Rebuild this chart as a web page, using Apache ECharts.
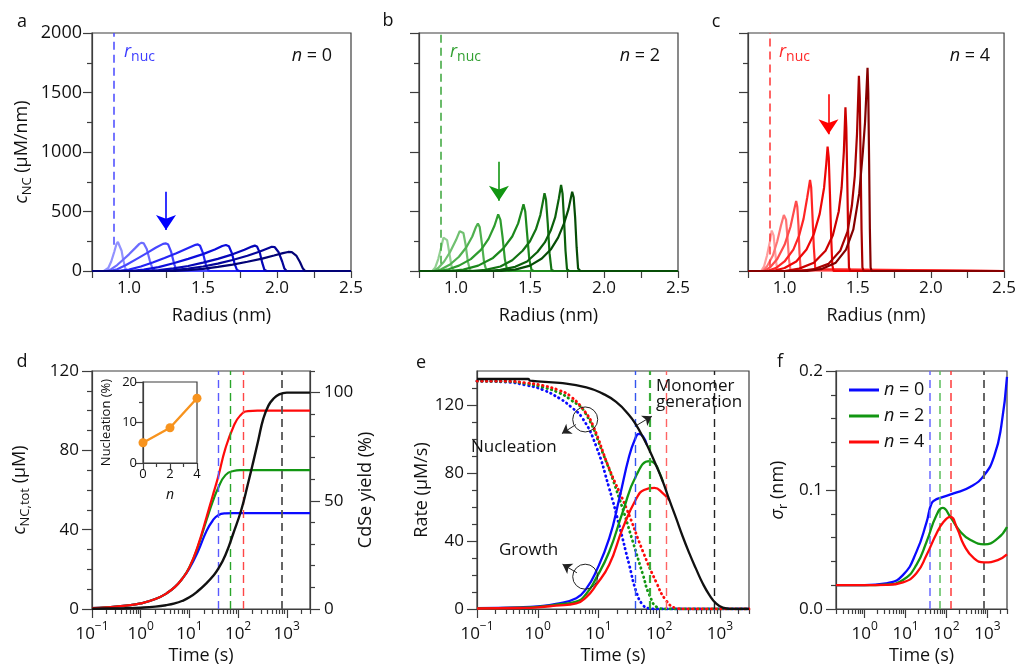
<!DOCTYPE html>
<html>
<head>
<meta charset="utf-8">
<script src="https://cdn.jsdelivr.net/npm/echarts@6/dist/echarts.min.js"></script>
<style>
  html, body { margin: 0; padding: 0; background: #fff; }
  #chart { width: 1019px; height: 667px; }
</style>
</head>
<body>
<div id="chart"></div>
<script>
// ---------- Panels a–c: NC size distributions, points are [radius (nm), c_NC (µM/nm)] ----------
const radiusTickLabels = [1.0, 1.5, 2.0, 2.5];
const rNuc = 0.9;

const distN0 = [
  [[0.75,0],[0.83,0],[0.86,25],[0.88,80],[0.90,160],[0.915,225],[0.925,244],[0.935,235],[0.95,170],[0.96,100],[0.975,20],[0.99,0],[2.5,0]],
  [[0.75,0],[0.85,0],[0.88,15],[0.92,50],[0.96,95],[1.00,140],[1.04,190],[1.07,228],[1.085,238],[1.10,232],[1.12,185],[1.14,90],[1.16,15],[1.175,0],[2.5,0]],
  [[0.75,0],[0.87,0],[0.92,15],[0.98,50],[1.05,100],[1.12,150],[1.18,195],[1.23,228],[1.25,232],[1.265,222],[1.285,160],[1.305,60],[1.32,8],[1.335,0],[2.5,0]],
  [[0.75,0],[0.92,0],[1.00,12],[1.08,38],[1.16,72],[1.24,110],[1.32,150],[1.40,193],[1.45,220],[1.465,224],[1.48,212],[1.50,150],[1.52,50],[1.535,5],[1.55,0],[2.5,0]],
  [[0.75,0],[1.00,0],[1.10,12],[1.20,33],[1.30,65],[1.40,102],[1.50,142],[1.58,180],[1.63,210],[1.655,218],[1.675,208],[1.695,150],[1.715,55],[1.73,8],[1.745,0],[2.5,0]],
  [[0.75,0],[1.10,0],[1.20,8],[1.30,22],[1.40,42],[1.50,70],[1.60,102],[1.70,140],[1.78,178],[1.83,205],[1.85,213],[1.865,206],[1.885,150],[1.90,70],[1.915,10],[1.93,0],[2.5,0]],
  [[0.75,0],[1.20,0],[1.30,8],[1.40,20],[1.50,38],[1.60,62],[1.70,92],[1.80,128],[1.88,162],[1.94,192],[1.965,204],[1.985,200],[2.01,160],[2.035,80],[2.05,20],[2.065,0],[2.5,0]],
  [[0.75,0],[1.30,0],[1.40,8],[1.50,18],[1.60,34],[1.70,54],[1.80,78],[1.90,104],[1.98,130],[2.04,150],[2.075,160],[2.10,158],[2.13,130],[2.155,75],[2.175,20],[2.19,0],[2.5,0]]
];

const distN2 = [
  [[0.75,0],[0.84,0],[0.86,30],[0.88,100],[0.90,200],[0.915,280],[0.925,294],[0.94,260],[0.955,150],[0.97,40],[0.985,0],[2.5,0]],
  [[0.75,0],[0.85,0],[0.88,25],[0.92,80],[0.96,160],[1.00,260],[1.025,335],[1.035,350],[1.05,320],[1.065,220],[1.08,80],[1.095,5],[1.11,0],[2.5,0]],
  [[0.75,0],[0.86,0],[0.90,15],[0.96,55],[1.02,120],[1.07,200],[1.11,290],[1.135,370],[1.148,400],[1.16,370],[1.175,230],[1.19,70],[1.205,5],[1.22,0],[2.5,0]],
  [[0.75,0],[0.88,0],[0.95,15],[1.02,45],[1.10,100],[1.17,180],[1.22,270],[1.26,380],[1.285,476],[1.30,430],[1.315,280],[1.33,100],[1.345,10],[1.36,0],[2.5,0]],
  [[0.75,0],[0.95,0],[1.05,12],[1.15,45],[1.25,110],[1.32,190],[1.38,290],[1.42,400],[1.445,510],[1.456,560],[1.468,500],[1.48,320],[1.495,100],[1.51,10],[1.525,0],[2.5,0]],
  [[0.75,0],[1.10,0],[1.20,10],[1.30,38],[1.38,90],[1.45,170],[1.50,250],[1.54,350],[1.57,470],[1.59,600],[1.598,653],[1.608,600],[1.62,400],[1.632,150],[1.645,10],[1.66,0],[2.5,0]],
  [[0.75,0],[1.20,0],[1.30,10],[1.40,35],[1.48,80],[1.55,160],[1.60,240],[1.64,340],[1.67,450],[1.695,610],[1.71,723],[1.72,650],[1.73,430],[1.74,170],[1.75,15],[1.765,0],[2.5,0]],
  [[0.75,0],[1.30,0],[1.40,12],[1.50,45],[1.58,105],[1.64,180],[1.69,280],[1.73,400],[1.76,520],[1.785,666],[1.795,620],[1.805,450],[1.815,200],[1.825,20],[1.84,0],[2.5,0]]
];

const distN4 = [
  [[0.75,0],[0.84,0],[0.86,40],[0.88,130],[0.90,250],[0.912,340],[0.917,345],[0.925,300],[0.935,170],[0.945,50],[0.955,0],[2.5,0]],
  [[0.75,0],[0.85,0],[0.88,40],[0.92,130],[0.95,250],[0.975,380],[0.995,470],[1.00,476],[1.01,430],[1.02,280],[1.03,100],[1.04,10],[1.05,0],[2.5,0]],
  [[0.75,0],[0.86,0],[0.90,30],[0.95,100],[1.00,220],[1.04,370],[1.065,510],[1.079,588],[1.087,540],[1.095,380],[1.102,150],[1.11,10],[1.12,0],[2.5,0]],
  [[0.75,0],[0.88,0],[0.94,25],[1.00,80],[1.06,180],[1.10,300],[1.13,440],[1.155,620],[1.174,765],[1.182,700],[1.19,480],[1.20,200],[1.21,15],[1.22,0],[2.5,0]],
  [[0.75,0],[0.92,0],[1.00,25],[1.08,80],[1.15,180],[1.20,310],[1.24,480],[1.27,700],[1.285,900],[1.294,1045],[1.302,950],[1.31,650],[1.318,300],[1.326,50],[1.335,0],[2.5,0]],
  [[0.75,0],[1.00,0],[1.10,20],[1.20,70],[1.28,170],[1.33,300],[1.37,500],[1.39,700],[1.405,1000],[1.416,1375],[1.422,1200],[1.428,800],[1.434,350],[1.44,30],[1.448,0],[2.5,0]],
  [[0.75,0],[1.10,0],[1.20,15],[1.30,60],[1.38,170],[1.43,330],[1.46,550],[1.48,800],[1.495,1150],[1.508,1641],[1.514,1450],[1.52,900],[1.526,350],[1.532,30],[1.54,0],[2.5,0]],
  [[0.75,0],[1.15,0],[1.25,15],[1.35,70],[1.42,180],[1.47,350],[1.51,650],[1.535,1000],[1.55,1250],[1.567,1708],[1.572,1500],[1.578,900],[1.583,350],[1.588,30],[1.595,0],[2.5,0]]
];

// ---------- Panel d: total NC concentration (µM) and CdSe yield (%) vs time (s) ----------
const timeD   = [0.1,0.2,0.5,1,2,3.4,5,7,10,15,22.6,30,39,55,80,110,160,250,500,1000,3000];
const cTotN0  = [0.4,0.8,1.7,2.8,5,7.9,11,15,20.5,29,39.5,44.5,47.3,48.2,48.3,48.3,48.3,48.3,48.3,48.3,48.3];
const cTotN2  = [0.4,0.8,1.7,2.8,5,7.9,11,15,21,31.5,45,54,61,67.5,69.6,70,70,70,70,70,70];
const cTotN4  = [0.4,0.8,1.7,2.8,5,7.9,11,15,21,32,46.5,57,66.6,81,91.8,97.5,99.8,100,100,100,100];
const timeYield = [0.1,0.2,0.5,1,2,3.4,5,7,10,15,22.6,30,39,55,80,117,160,205,260,330,420,525,700,1000,3000];
const yieldCdSe = [0.1,0.2,0.35,0.6,1.1,1.8,2.6,3.7,5.4,8.3,12,15,18.5,25,35,46,58,68,78,88,94,97,99.2,100,100];
// inset: nucleation share (%) vs n
const insetN = [0, 2, 4];
const nucleationPct = [5.0, 8.7, 16.0];
// end of nucleation for n = 0, 2, 4 and end of the reaction (s)
const endTimes = [40, 70, 130, 800];

// ---------- Panel e: rates (µM/s) vs time (s) ----------
const timeMono = [0.1,0.7,0.75,2.3,6.3,11.7,19.5,32,42,54,69,88.6,115,147,190,244,313,400,520,670,860,1110,1500,3000];
const rateMono = [135.3,135.3,134.3,133,130.4,126.7,121.8,114,108,101,93.4,84.6,74.8,64,53.3,42.5,32.7,23.9,15,8.2,3.3,0.8,0.1,0];
const timeNucN0 = [0.1,0.3,0.65,1.2,2.3,3.5,5.5,9.1,15,22,32,42,54,70,100,3000];
const rateNucN0 = [134,133.5,131.6,129,123.8,119,112,96,71,49,26,10,2.3,0.3,0,0];
const timeNucN2 = [0.1,0.3,0.65,1.2,2.3,3.5,5.9,11.7,22,36.8,54,69,95,130,3000];
const rateNucN2 = [134,133.8,132.5,130.5,127,123,116,92,65,39.5,20,8.2,0.8,0,0];
const timeNucN4 = [0.1,0.3,0.65,1.2,2.3,3.5,6,8.1,15,29,54,88.6,128,190,260,3000];
const rateNucN4 = [134,134,133,131.5,128.5,125,116,108,82.6,59,33.7,16,5.3,0.5,0,0];
const timeGrowN0 = [0.1,0.5,1,2,4.3,6.3,9.1,15,22,32,40,46,54,62];
const rateGrowN0 = [0.5,1,1.6,3,6.3,12,22,41.5,65,90,100,103,101.5,96.8];
const timeGrowN2 = [0.1,0.5,1,2,4.3,6.3,9.1,15,25,42,69,85,100,115];
const rateGrowN2 = [0.4,0.8,1.3,2.5,4.3,9,18,33.7,57,78.7,87,85.5,80.5,75];
const timeGrowN4 = [0.1,0.5,1,2,4.3,6.3,9.1,15,25,42,56,83,115,147];
const rateGrowN4 = [0.3,0.6,1,2,3.3,7,14,26,47.4,65,70,71.3,68,64];

// ---------- Panel f: size-distribution width sigma_r (nm) vs time (s) ----------
const timeSigN0 = [0.2,1,3.3,8.6,18.4,32.6,43,55,70,149,386,835,1480,2180,3000];
const sigmaN0   = [0.02,0.02,0.0215,0.0285,0.048,0.073,0.0887,0.092,0.0934,0.0971,0.1027,0.1125,0.129,0.154,0.195];
const timeSigN2 = [0.2,1,3.3,8.6,18.4,32.6,57,81,123,218,386,835,1780,3000];
const sigmaN2   = [0.02,0.02,0.0205,0.0243,0.037,0.0565,0.079,0.085,0.0775,0.065,0.058,0.0543,0.0593,0.069];
const timeSigN4 = [0.2,1,3.3,8.6,18.4,32.6,57,85,123,182,267,470,835,1780,3000];
const sigmaN4   = [0.02,0.02,0.0202,0.0224,0.030,0.0453,0.0635,0.0733,0.0775,0.0677,0.0537,0.0425,0.0392,0.0411,0.0459];

// ---------- styles ----------
const FONT = "'Open Sans', sans-serif";
const INK = '#111';
const AXIS = '#3d3d3d';
const axisLine = { show: true, onZero: false, lineStyle: { color: AXIS, width: 1.2 } };
const noLine = { show: false, onZero: false };
const tickStyle = { color: AXIS, width: 1.2 };
const BLUE = '#0a0aff', GREEN = '#129612', RED = '#ff0a0a', ORANGE = '#f7931e';
const shadesN0 = ['#9292ff','#6c6cff','#4646ff','#2424f5','#0c0cdc','#0606b8','#04049a','#020276'];
const shadesN2 = ['#92d092','#70c070','#4fb04f','#2e9c2e','#1c881c','#137313','#0b600b','#064d06'];
const shadesN4 = ['#ff9d9d','#ff7373','#ff4b4b','#ff2424','#ee0606','#cc0000','#a80000','#850000'];

const nameRich = {
  i: { fontFamily: FONT, fontSize: 18, fontStyle: 'italic', color: INK, verticalAlign: 'top' },
  s: { fontFamily: FONT, fontSize: 13, color: INK, verticalAlign: 'top', padding: [8, 0, 0, 0] },
  t: { fontFamily: FONT, fontSize: 18, color: INK, verticalAlign: 'top' }
};
const nameStyle = { fontFamily: FONT, fontSize: 18, color: INK, rich: nameRich };
const supRich = {
  b: { fontFamily: FONT, fontSize: 17, color: INK, verticalAlign: 'top', padding: [5, 0, 0, 0] },
  s: { fontFamily: FONT, fontSize: 12, color: INK, verticalAlign: 'top' }
};
const LINE_SMOOTH = 0.5;

const pairs = (xs, ys) => xs.map((x, i) => [x, ys[i]]);
const lg = v => { const l = Math.log10(v); return Math.abs(l - Math.round(l)) < 1e-9 ? Math.round(l) : l; };

// ---------- grids ----------
const grids = [
  { left: 92,  top: 33,  width: 259, height: 238 },  // a
  { left: 419, top: 33,  width: 259, height: 238 },  // b
  { left: 748, top: 33,  width: 258, height: 238 },  // c
  { left: 92,  top: 371, width: 218, height: 238 },  // d
  { left: 477, top: 371, width: 272, height: 238 },  // e
  { left: 836, top: 371, width: 171, height: 238 },  // f
  { left: 143, top: 382, width: 54,  height: 81, backgroundColor: '#fff' }   // d inset
].map(g => Object.assign({ show: true, borderColor: AXIS, borderWidth: 1.2 }, g));

const xAxes = [], yAxes = [], series = [];
const addX = a => (xAxes.push(a), xAxes.length - 1);
const addY = a => (yAxes.push(a), yAxes.length - 1);

// log time axis: hidden log axis carries the data, two linear overlays (in decades) draw ticks & labels
function timeAxes(grid, lo, hi) {
  const lmin = lg(lo), lmax = lg(hi);
  const major = [], minor = [];
  for (let d = Math.floor(lmin); d <= Math.ceil(lmax); d++) {
    if (d >= lmin - 1e-9 && d <= lmax + 1e-9) major.push(d);
    for (let k = 2; k <= 9; k++) {
      const v = d + Math.log10(k);
      if (v >= lmin - 1e-9 && v <= lmax + 1e-9) minor.push(v);
    }
  }
  const data = addX({ gridIndex: grid, type: 'log', min: lo, max: hi, show: false, axisLine: noLine });
  addX({
    gridIndex: grid, type: 'value', position: 'bottom', min: lmin, max: lmax,
    axisLine, splitLine: { show: false },
    axisTick: { show: true, length: 9, lineStyle: tickStyle, customValues: major },
    axisLabel: {
      show: true, customValues: major, margin: 12, rich: supRich,
      formatter: v => '{b|10}{s|' + (v < 0 ? '\u2212' + (-v) : v) + '}'
    },
    name: 'Time (s)', nameLocation: 'middle', nameGap: 38, nameTextStyle: nameStyle
  });
  addX({
    gridIndex: grid, type: 'value', position: 'bottom', min: lmin, max: lmax,
    axisLine: noLine, splitLine: { show: false }, axisLabel: { show: false },
    axisTick: { show: true, length: 5, lineStyle: tickStyle, customValues: minor }
  });
  return data;
}

// ---------- panels a–c ----------
const distPanels = [
  { grid: 0, curves: distN0, shades: shadesN0, mark: '#4848ff', arrow: '#0000ff', arrowAt: [1.25, 666, 344], nucLow: 220, first: true },
  { grid: 1, curves: distN2, shades: shadesN2, mark: '#3aa53a', arrow: '#129612', arrowAt: [1.29, 918, 590], nucLow: 60 },
  { grid: 2, curves: distN4, shades: shadesN4, mark: '#ff3333', arrow: '#ff0000', arrowAt: [1.30, 1485, 1150], nucLow: 30 }
];
distPanels.forEach(p => {
  const xi = addX({
    gridIndex: p.grid, type: 'value', position: 'bottom', min: 0.75, max: 2.5, interval: 0.25,
    axisLine, splitLine: { show: false },
    axisTick: { show: true, length: 7, lineStyle: tickStyle },
    axisLabel: { customValues: radiusTickLabels, formatter: v => v.toFixed(1), margin: 9,
                 fontFamily: FONT, fontSize: 17, color: INK },
    name: 'Radius (nm)', nameLocation: 'middle', nameGap: 36, nameTextStyle: nameStyle
  });
  const yi = addY({
    gridIndex: p.grid, type: 'value', position: 'left', min: 0, max: 2000, interval: 500,
    axisLine, splitLine: { show: false },
    axisTick: { show: true, length: 9, lineStyle: tickStyle },
    minorTick: { show: true, splitNumber: 2, length: 5, lineStyle: tickStyle },
    axisLabel: { show: !!p.first, margin: 10, formatter: v => String(v), fontFamily: FONT, fontSize: 18, color: INK },
    name: p.first ? '{i|c}{s|NC}{t| (µM/nm)}' : '', nameLocation: 'middle', nameRotate: 90,
    nameGap: 58, nameTextStyle: nameStyle
  });
  const last = p.curves.length - 1;
  p.curves.forEach((c, k) => {
    const s = {
      type: 'line', xAxisIndex: xi, yAxisIndex: yi, data: c, symbol: 'none', silent: true,
      lineStyle: { color: p.shades[k], width: 2.2 }, z: 3 + k
    };
    if (k === last) {
      s.markLine = {
        silent: true, label: { show: false }, animation: false,
        data: [
          [{ coord: [rNuc, p.nucLow], symbol: 'none', lineStyle: { color: p.mark, type: [8, 5], width: 1.5 } },
           { coord: [rNuc, 2000], symbol: 'none' }],
          [{ coord: [p.arrowAt[0], p.arrowAt[1]], symbol: 'none', lineStyle: { color: p.arrow, type: 'solid', width: 1.6 } },
           { coord: [p.arrowAt[0], p.arrowAt[2]], symbol: 'arrow', symbolSize: 15, itemStyle: { color: p.arrow } }]
        ]
      };
    }
    series.push(s);
  });
});

// ---------- panel d ----------
const dX = timeAxes(3, 0.1, 3000);
const dYL = addY({
  gridIndex: 3, type: 'value', position: 'left', min: 0, max: 120, interval: 40,
  axisLine, splitLine: { show: false },
  axisTick: { show: true, length: 10, lineStyle: tickStyle },
  minorTick: { show: true, splitNumber: 4, length: 5, lineStyle: tickStyle },
  axisLabel: { margin: 13, fontFamily: FONT, fontSize: 17, color: INK },
  name: '{i|c}{s|NC,tot}{t| (µM)}', nameLocation: 'middle', nameRotate: 90, nameGap: 60, nameTextStyle: nameStyle
});
const dYR = addY({
  gridIndex: 3, type: 'value', position: 'right', min: 0, max: 110,
  axisLine, splitLine: { show: false },
  axisTick: { show: true, length: 10, lineStyle: tickStyle, customValues: [0, 50, 100] },
  axisLabel: { customValues: [0, 50, 100], margin: 14, fontFamily: FONT, fontSize: 17, color: INK },
  name: 'CdSe yield (%)', nameLocation: 'middle', nameRotate: 90, nameGap: 47, nameTextStyle: nameStyle
});
addY({
  gridIndex: 3, type: 'value', position: 'right', min: 0, max: 110,
  axisLine: noLine, splitLine: { show: false }, axisLabel: { show: false },
  axisTick: { show: true, length: 5, lineStyle: tickStyle, customValues: [10,20,30,40,60,70,80,90,110] }
});
const dashD = ['#5a5aff', '#2aa52a', '#ff4646', '#555'];
[[cTotN0, BLUE], [cTotN2, GREEN], [cTotN4, RED]].forEach(([ys, col]) => series.push({
  type: 'line', xAxisIndex: dX, yAxisIndex: dYL, data: pairs(timeD, ys), symbol: 'none',
  smooth: LINE_SMOOTH, silent: true, lineStyle: { color: col, width: 2.2 }, z: 4
}));
series.push({
  type: 'line', xAxisIndex: dX, yAxisIndex: dYR, data: pairs(timeYield, yieldCdSe), symbol: 'none',
  smooth: LINE_SMOOTH, silent: true, lineStyle: { color: '#111', width: 2.4 }, z: 5,
  markLine: {
    silent: true, symbol: 'none', label: { show: false }, animation: false,
    data: endTimes.map((t, i) => ({ xAxis: t, lineStyle: { color: dashD[i], type: [8, 5], width: i === 3 ? 1.8 : 1.4 } }))
  }
});

// inset of d
const iX = addX({
  gridIndex: 6, type: 'value', position: 'bottom', min: 0, max: 4, interval: 2,
  axisLine, splitLine: { show: false },
  axisTick: { show: true, length: 7, lineStyle: tickStyle },
  minorTick: { show: true, splitNumber: 2, length: 4, lineStyle: tickStyle },
  axisLabel: { margin: 5, fontFamily: FONT, fontSize: 13, color: INK },
  name: 'n', nameLocation: 'middle', nameGap: 25,
  nameTextStyle: { fontFamily: FONT, fontSize: 14, fontStyle: 'italic', color: INK }
});
const iY = addY({
  gridIndex: 6, type: 'value', position: 'left', min: 0, max: 20, interval: 10,
  axisLine, splitLine: { show: false },
  axisTick: { show: true, length: 7, lineStyle: tickStyle },
  minorTick: { show: true, splitNumber: 2, length: 4, lineStyle: tickStyle },
  axisLabel: { margin: 6, fontFamily: FONT, fontSize: 13, color: INK },
  name: 'Nucleation (%)', nameLocation: 'middle', nameRotate: 90, nameGap: 30,
  nameTextStyle: { fontFamily: FONT, fontSize: 13, color: INK }
});
series.push({
  type: 'line', xAxisIndex: iX, yAxisIndex: iY, data: pairs(insetN, nucleationPct),
  symbol: 'circle', symbolSize: 9, silent: true, z: 30,
  lineStyle: { color: ORANGE, width: 2.4 }, itemStyle: { color: ORANGE }
});

// ---------- panel e ----------
const eX = timeAxes(4, 0.1, 3000);
const eY = addY({
  gridIndex: 4, type: 'value', position: 'left', min: 0, max: 140,
  axisLine, splitLine: { show: false },
  axisTick: { show: true, length: 10, lineStyle: tickStyle, customValues: [0, 40, 80, 120] },
  axisLabel: { customValues: [0, 40, 80, 120], margin: 13, fontFamily: FONT, fontSize: 17, color: INK },
  name: 'Rate (µM/s)', nameLocation: 'middle', nameRotate: 90, nameGap: 46, nameTextStyle: nameStyle
});
addY({
  gridIndex: 4, type: 'value', position: 'left', min: 0, max: 140,
  axisLine: noLine, splitLine: { show: false }, axisLabel: { show: false },
  axisTick: { show: true, length: 5, lineStyle: tickStyle, customValues: [10,20,30,50,60,70,90,100,110,130] }
});
const dashE = ['#3355ee', '#3aac3a', '#ff6464', '#222'];
const dotted = { type: [0.5, 4.2], cap: 'round', width: 2.8 };
[[timeNucN0, rateNucN0, BLUE], [timeNucN2, rateNucN2, GREEN], [timeNucN4, rateNucN4, RED]].forEach(([t, r, col], i) => {
  const s = {
    type: 'line', xAxisIndex: eX, yAxisIndex: eY, data: pairs(t, r), symbol: 'none',
    smooth: LINE_SMOOTH, silent: true, z: 3,
    lineStyle: Object.assign({ color: col }, dotted)
  };
  if (i === 0) s.markLine = {
    silent: true, symbol: 'none', label: { show: false }, animation: false,
    data: endTimes.map((tt, k) => ({ xAxis: tt, lineStyle: { color: dashE[k], type: [8, 5], width: k === 1 ? 2.2 : 1.4 } }))
  };
  series.push(s);
});
[[timeGrowN0, rateGrowN0, BLUE], [timeGrowN2, rateGrowN2, GREEN], [timeGrowN4, rateGrowN4, RED]].forEach(([t, r, col]) => series.push({
  type: 'line', xAxisIndex: eX, yAxisIndex: eY, data: pairs(t, r), symbol: 'none',
  smooth: LINE_SMOOTH, silent: true, z: 4, lineStyle: { color: col, width: 2.3 }
}));
series.push({
  type: 'line', xAxisIndex: eX, yAxisIndex: eY, data: pairs(timeMono, rateMono), symbol: 'none',
  smooth: LINE_SMOOTH, silent: true, z: 5, lineStyle: { color: '#111', width: 2.3 },
  markPoint: {
    silent: true, symbol: 'circle', symbolSize: 25, label: { show: false }, animation: false,
    itemStyle: { color: 'rgba(0,0,0,0)', borderColor: '#222', borderWidth: 1 },
    data: [{ coord: [6.04, 111.5] }, { coord: [6.04, 19] }]
  },
  markLine: {
    silent: true, label: { show: false }, animation: false,
    lineStyle: { color: '#222', width: 1, type: 'solid' },
    data: [
      [{ coord: [4.25, 108.5], symbol: 'none' }, { coord: [2.5, 103.2], symbol: 'arrow', symbolSize: 9 }],
      [{ coord: [4.41, 21.3], symbol: 'none' }, { coord: [2.56, 26.3], symbol: 'arrow', symbolSize: 9 }],
      [{ coord: [42.8, 108.1], symbol: 'none' }, { coord: [75.5, 113.4], symbol: 'arrow', symbolSize: 9 }]
    ]
  }
});

// ---------- panel f ----------
const fX = timeAxes(5, 0.2, 3000);
const fY = addY({
  gridIndex: 5, type: 'value', position: 'left', min: 0, max: 0.2, interval: 0.1,
  axisLine, splitLine: { show: false },
  axisTick: { show: true, length: 10, lineStyle: tickStyle },
  minorTick: { show: true, splitNumber: 5, length: 5, lineStyle: tickStyle },
  axisLabel: { formatter: v => v.toFixed(1), margin: 13, fontFamily: FONT, fontSize: 17, color: INK },
  name: '{i|σ}{s|r}{t| (nm)}', nameLocation: 'middle', nameRotate: 90, nameGap: 46, nameTextStyle: nameStyle
});
const dashF = ['#6a6aff', '#5bbf5b', '#ff3b3b', '#666'];
[['n = 0', timeSigN0, sigmaN0, BLUE], ['n = 2', timeSigN2, sigmaN2, GREEN], ['n = 4', timeSigN4, sigmaN4, RED]].forEach(([nm, t, s, col], i) => {
  const ser = {
    name: nm, type: 'line', xAxisIndex: fX, yAxisIndex: fY, data: pairs(t, s), symbol: 'none',
    smooth: LINE_SMOOTH, silent: true, z: 4 + i, lineStyle: { color: col, width: 2.3 }, itemStyle: { color: col }
  };
  if (i === 0) ser.markLine = {
    silent: true, symbol: 'none', label: { show: false }, animation: false,
    data: endTimes.map((tt, k) => ({ xAxis: tt, lineStyle: { color: dashF[k], type: [8, 5], width: k === 3 ? 2 : 1.5 } }))
  };
  series.push(ser);
});

// ---------- free text ----------
const txt = (text, x, y, extra) => ({
  type: 'text', x, y, silent: true, z: 100,
  style: Object.assign({ text, fontFamily: FONT, fontSize: 18, fill: INK, textAlign: 'left', textVerticalAlign: 'middle' }, extra || {})
});
const nucRich = col => ({
  i: { fontFamily: FONT, fontSize: 18, fontStyle: 'italic', fill: col, color: col, verticalAlign: 'top' },
  s: { fontFamily: FONT, fontSize: 14, fill: col, color: col, verticalAlign: 'top', padding: [7, 0, 0, 0] }
});
const nRich = {
  i: { fontFamily: FONT, fontSize: 18, fontStyle: 'italic', color: INK },
  t: { fontFamily: FONT, fontSize: 18, color: INK }
};
const graphic = [
  txt('a', 22, 22, { textAlign: 'center' }),
  txt('b', 388, 21, { textAlign: 'center' }),
  txt('c', 716, 22, { textAlign: 'center' }),
  txt('d', 22, 362, { textAlign: 'center' }),
  txt('e', 421, 363, { textAlign: 'center' }),
  txt('f', 780, 362, { textAlign: 'center' }),
  txt('{i|r}{s|nuc}', 124, 43, { rich: nucRich('#3c3cff'), textVerticalAlign: 'top' }),
  txt('{i|r}{s|nuc}', 450, 43, { rich: nucRich('#32a032'), textVerticalAlign: 'top' }),
  txt('{i|r}{s|nuc}', 779, 43, { rich: nucRich('#ff2a2a'), textVerticalAlign: 'top' }),
  txt('{i|n}{t| = 0}', 332, 56, { rich: nRich, textAlign: 'right' }),
  txt('{i|n}{t| = 2}', 660, 56, { rich: nRich, textAlign: 'right' }),
  txt('{i|n}{t| = 4}', 990, 56, { rich: nRich, textAlign: 'right' }),
  txt('Nucleation', 471, 447, { fontSize: 17 }),
  txt('Growth', 499, 550, { fontSize: 17 }),
  txt('Monomer', 656, 386, { fontSize: 17 }),
  txt('generation', 656, 402, { fontSize: 17 })
];

const chart = echarts.init(document.getElementById('chart'), null, { renderer: 'canvas' });
chart.setOption({
  animation: false,
  backgroundColor: '#fff',
  textStyle: { fontFamily: FONT },
  grid: grids,
  xAxis: xAxes,
  yAxis: yAxes,
  series,
  graphic,
  legend: {
    data: ['n = 0', 'n = 2', 'n = 4'], orient: 'vertical', left: 844, top: 376,
    icon: 'rect', itemWidth: 30, itemHeight: 3, itemGap: 8, selectedMode: false,
    textStyle: { fontFamily: FONT, fontSize: 18, color: INK, rich: nRich },
    formatter: name => '{i|n}{t| = ' + name.slice(4) + '}'
  }
});
</script>
</body>
</html>
